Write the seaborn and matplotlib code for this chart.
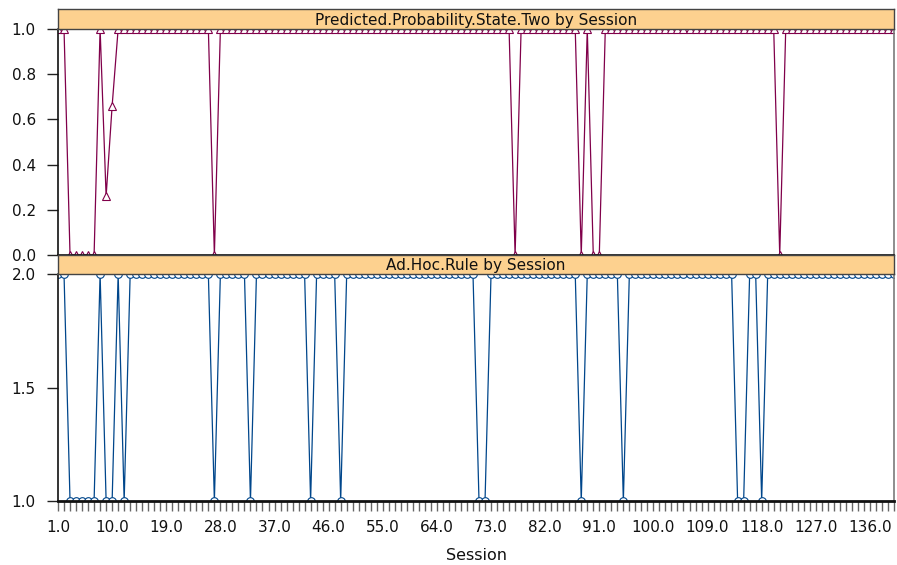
import numpy as np
import pandas as pd
import matplotlib
matplotlib.use("Agg")
import matplotlib.pyplot as plt
import seaborn as sns
from matplotlib.ticker import FixedLocator, MultipleLocator, FormatStrFormatter

sns.set_theme(style="white")
plt.rcParams['font.family'] = ['DejaVu Sans']

# ---- data ----
session = list(range(1, 141))
prob_state_two = [
    1, 1, 0, 0, 0, 0, 0, 1, 0.26, 0.66, 1, 1, 1, 1, 1, 1, 1, 1, 1, 1,
    1, 1, 1, 1, 1, 1, 0, 1, 1, 1, 1, 1, 1, 1, 1, 1, 1, 1, 1, 1,
    1, 1, 1, 1, 1, 1, 1, 1, 1, 1, 1, 1, 1, 1, 1, 1, 1, 1, 1, 1,
    1, 1, 1, 1, 1, 1, 1, 1, 1, 1, 1, 1, 1, 1, 1, 1, 0, 1, 1, 1,
    1, 1, 1, 1, 1, 1, 1, 0, 1, 0, 0, 1, 1, 1, 1, 1, 1, 1, 1, 1,
    1, 1, 1, 1, 1, 1, 1, 1, 1, 1, 1, 1, 1, 1, 1, 1, 1, 1, 1, 1,
    0, 1, 1, 1, 1, 1, 1, 1, 1, 1, 1, 1, 1, 1, 1, 1, 1, 1, 1, 1,
]
ad_hoc_rule = [
    2, 2, 1, 1, 1, 1, 1, 2, 1, 1, 2, 1, 2, 2, 2, 2, 2, 2, 2, 2,
    2, 2, 2, 2, 2, 2, 1, 2, 2, 2, 2, 2, 1, 2, 2, 2, 2, 2, 2, 2,
    2, 2, 1, 2, 2, 2, 2, 1, 2, 2, 2, 2, 2, 2, 2, 2, 2, 2, 2, 2,
    2, 2, 2, 2, 2, 2, 2, 2, 2, 2, 1, 1, 2, 2, 2, 2, 2, 2, 2, 2,
    2, 2, 2, 2, 2, 2, 2, 1, 2, 2, 2, 2, 2, 2, 1, 2, 2, 2, 2, 2,
    2, 2, 2, 2, 2, 2, 2, 2, 2, 2, 2, 2, 2, 1, 1, 2, 2, 1, 2, 2,
    2, 2, 2, 2, 2, 2, 2, 2, 2, 2, 2, 2, 2, 2, 2, 2, 2, 2, 2, 2,
]
x_tick_values = [1, 10, 19, 28, 37, 46, 55, 64, 73, 82, 91, 100, 109, 118, 127, 136]
top_title = "Predicted.Probability.State.Two by Session"
bottom_title = "Ad.Hoc.Rule by Session"

df = pd.DataFrame({"Session": session, "Prob": prob_state_two, "Rule": ad_hoc_rule})

W, H = 897, 565
fig = plt.figure(figsize=(W / 100, H / 100), dpi=100)

def fx(px):
    return px / W

def fy(py):
    return 1 - py / H

left, right = 58, 894
ax_top = fig.add_axes([fx(left), fy(255), fx(right - left), (255 - 29) / H])
ax_bot = fig.add_axes([fx(left), fy(501), fx(right - left), (501 - 274) / H])
strip_top = fig.add_axes([fx(left), fy(29), fx(right - left), (29 - 9) / H])
strip_bot = fig.add_axes([fx(left), fy(274), fx(right - left), (274 - 255) / H])

maroon = "#80004a"
navy = "#00468b"

sns.lineplot(data=df, x="Session", y="Prob", ax=ax_top, color=maroon, lw=0.9,
             marker="^", markersize=5.5, markerfacecolor="white",
             markeredgecolor=maroon, markeredgewidth=0.8)
sns.lineplot(data=df, x="Session", y="Rule", ax=ax_bot, color=navy, lw=0.9,
             marker="o", markersize=5.5, markerfacecolor="white",
             markeredgecolor=navy, markeredgewidth=0.8)

for ax in (ax_top, ax_bot):
    ax.set_xlim(1, 140)
    ax.set_xlabel("")
    ax.set_ylabel("")
    ax.set_facecolor("white")
    for side in ("top", "right"):
        ax.spines[side].set_color("#7a7a7a")
        ax.spines[side].set_linewidth(1.2)
    ax.spines["left"].set_color("#111111")
    ax.spines["left"].set_linewidth(1.2)
    ax.spines["bottom"].set_color("#111111")
    ax.spines["bottom"].set_linewidth(1.2)
    ax.tick_params(axis="y", left=True, direction="out", length=8, width=1,
                   color="#222222", labelsize=11, labelcolor="#111111", pad=8)

ax_top.set_ylim(0, 1)
ax_top.yaxis.set_major_locator(FixedLocator([0, 0.2, 0.4, 0.6, 0.8, 1.0]))
ax_top.yaxis.set_major_formatter(FormatStrFormatter("%.1f"))
ax_top.set_xticks([])
ax_top.tick_params(axis="x", bottom=False, labelbottom=False)

ax_bot.set_ylim(1, 2)
ax_bot.yaxis.set_major_locator(FixedLocator([1.0, 1.5, 2.0]))
ax_bot.yaxis.set_major_formatter(FormatStrFormatter("%.1f"))
ax_bot.spines["bottom"].set_linewidth(2)
ax_bot.xaxis.set_major_locator(FixedLocator(x_tick_values))
ax_bot.xaxis.set_major_formatter(FormatStrFormatter("%.1f"))
ax_bot.xaxis.set_minor_locator(MultipleLocator(1))
ax_bot.tick_params(axis="x", which="both", bottom=True, direction="out",
                   length=7, width=1, color="#666666")
ax_bot.tick_params(axis="x", which="major", labelsize=11, labelcolor="#111111", pad=7)
ax_bot.set_xlabel("Session", fontsize=11.5, color="#111111", labelpad=9)

for strip, title in ((strip_top, top_title), (strip_bot, bottom_title)):
    strip.set_facecolor("#fdd18f")
    strip.set_xticks([])
    strip.set_yticks([])
    for s in strip.spines.values():
        s.set_color("#444444")
        s.set_linewidth(1.0)
    strip.text(0.5, 0.45, title, ha="center", va="center", fontsize=11,
               color="#111111", transform=strip.transAxes)

fig.savefig("out.png", dpi=100, facecolor="white")
